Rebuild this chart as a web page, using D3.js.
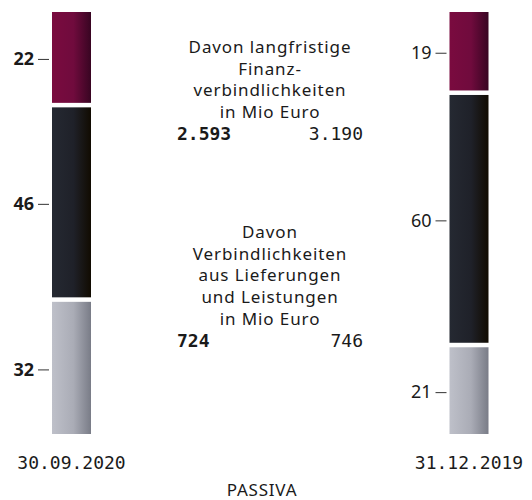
<!DOCTYPE html>
<html><head><meta charset="utf-8">
<script src="https://cdn.jsdelivr.net/npm/d3@7"></script>
<style>
html,body{margin:0;padding:0;background:#fff;}
svg{display:block;}
</style></head>
<body>
<svg id="chart" width="532" height="500"></svg>
<script>
// ---- data ----
const dates = ["30.09.2020", "31.12.2019"];
const segments = ["Eigenkapital", "Langfristige Schulden", "Kurzfristige Schulden"];
const values2020 = [22, 46, 32];
const values2019 = [19, 60, 21];
const block1Lines = ["Davon langfristige", "Finanz-", "verbindlichkeiten", "in Mio Euro"];
const block1Values = ["2.593", "3.190"];
const block2Lines = ["Davon", "Verbindlichkeiten", "aus Lieferungen", "und Leistungen", "in Mio Euro"];
const block2Values = ["724", "746"];
const footerLabel = "PASSIVA";

// ---- layout ----
const svg = d3.select("#chart");
const W = 532, H = 500;
const barW = 39;
const barTop = 12, barBottom = 434, gap = 4.5;
const x = d3.scalePoint().domain(dates).range([71.5, 469]);
const sans = "'Noto Sans', 'Open Sans', sans-serif";
const mono = "'DejaVu Sans Mono', monospace";

const gradients = [
  ["#7a0b3f", "#700b3d", "#380522"],
  ["#252932", "#1f2129", "#110b01"],
  ["#bec0c9", "#aaacb6", "#797c87"]
];
const defs = svg.append("defs");
gradients.forEach((g, i) => {
  const lg = defs.append("linearGradient").attr("id", "g" + i)
    .attr("x1", "0%").attr("x2", "100%").attr("y1", "0%").attr("y2", "0%");
  lg.append("stop").attr("offset", "0%").attr("stop-color", g[0]);
  lg.append("stop").attr("offset", "55%").attr("stop-color", g[1]);
  lg.append("stop").attr("offset", "100%").attr("stop-color", g[2]);
});

const series = [values2020, values2019];
const fonts = ["bold", "normal"];
series.forEach((vals, si) => {
  const total = d3.sum(vals);
  const y = d3.scaleLinear().domain([0, total])
    .range([barTop, barBottom - gap * (vals.length - 1)]);
  const cum = d3.cumsum(vals);
  const data = vals.map((v, i) => ({
    v, i,
    y0: y(cum[i] - v) + i * gap,
    y1: y(cum[i]) + i * gap
  }));
  const cx = x(dates[si]);
  svg.append("g").selectAll("rect").data(data).join("rect")
    .attr("x", cx - barW / 2).attr("width", barW)
    .attr("y", d => d.y0).attr("height", d => d.y1 - d.y0)
    .attr("fill", d => `url(#g${d.i})`);

  // axis with ticks at segment centers
  const mids = data.map(d => (d.y0 + d.y1) / 2 + 1.5);
  const ay = d3.scaleLinear().domain([0, H]).range([0, H]);
  const axis = d3.axisLeft(ay).tickValues(mids).tickSize(11).tickPadding(4)
    .tickFormat((d, i) => vals[i]);
  const ag = svg.append("g").attr("transform", `translate(${cx - barW / 2 - 3},0)`).call(axis);
  ag.select(".domain").remove();
  ag.selectAll(".tick line").attr("stroke", "#333").attr("stroke-width", 1);
  ag.selectAll(".tick text")
    .attr("font-family", sans)
    .attr("font-size", 18).attr("font-weight", fonts[si]).attr("fill", "#1a1a1a");

  svg.append("text").attr("x", cx).attr("y", 463)
    .attr("dy", "0.35em").attr("text-anchor", "middle")
    .attr("font-family", mono).attr("font-size", 18)
    .attr("fill", "#1a1a1a").text(dates[si]);
});

// center blocks
function block(lines, vals, y0) {
  const cx = 270;
  lines.forEach((l, i) => {
    svg.append("text").attr("x", cx).attr("y", y0 + i * 21.7)
      .attr("dy", "0.35em").attr("text-anchor", "middle")
      .attr("font-family", sans).attr("font-size", 17)
      .attr("letter-spacing", 0.9)
      .attr("fill", "#1a1a1a").text(l);
  });
  const vy = y0 + lines.length * 21.7;
  svg.append("text").attr("x", 177).attr("y", vy).attr("dy", "0.35em")
    .attr("font-family", mono).attr("font-size", 18)
    .attr("font-weight", "bold").attr("fill", "#1a1a1a").text(vals[0]);
  svg.append("text").attr("x", 363).attr("y", vy).attr("dy", "0.35em")
    .attr("text-anchor", "end")
    .attr("font-family", mono).attr("font-size", 18)
    .attr("fill", "#1a1a1a").text(vals[1]);
}
block(block1Lines, block1Values, 47);
block(block2Lines, block2Values, 232);

svg.append("text").attr("x", 262).attr("y", 490).attr("dy", "0.35em")
  .attr("text-anchor", "middle")
  .attr("font-family", sans).attr("font-size", 17)
  .attr("letter-spacing", 0.8)
  .attr("fill", "#1a1a1a").text(footerLabel);
</script>
</body></html>
